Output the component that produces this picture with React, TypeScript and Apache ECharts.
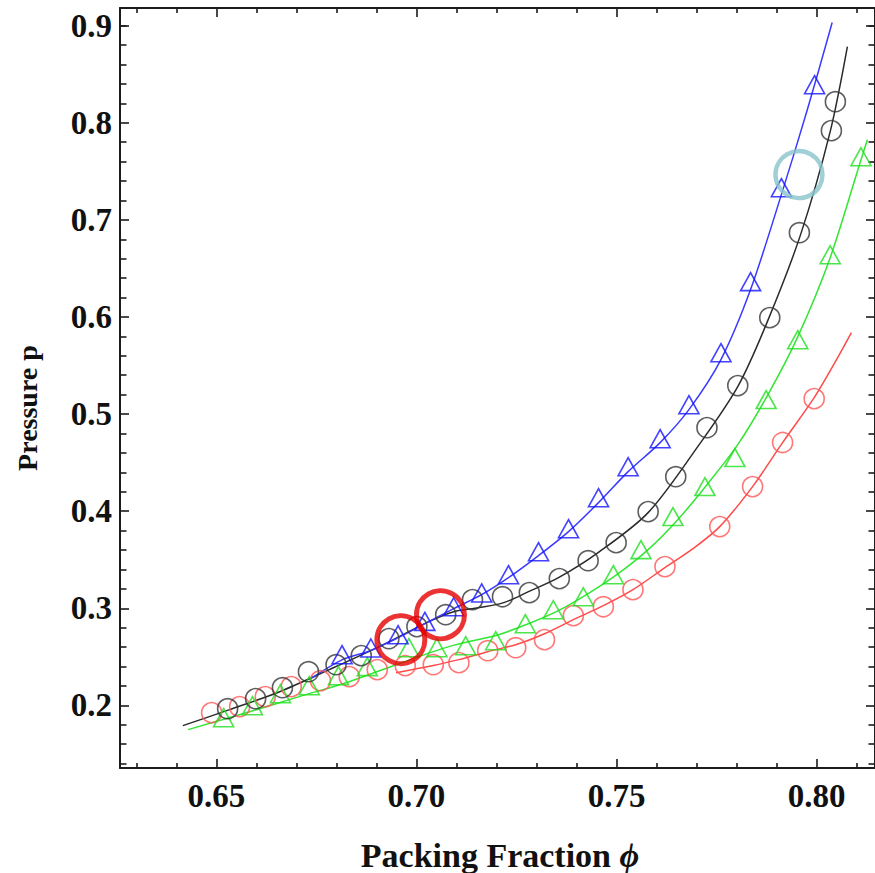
import React, { useEffect, useRef } from "react";
import * as echarts from "echarts";

// ---- axis ticks ----
const xMajorTicks = [0.65, 0.7, 0.75, 0.8];
const xMinorTicks = [0.63, 0.64, 0.66, 0.67, 0.68, 0.69, 0.71, 0.72, 0.73, 0.74, 0.76, 0.77, 0.78, 0.79, 0.81];
const yMajorTicks = [0.2, 0.3, 0.4, 0.5, 0.6, 0.7, 0.8, 0.9];
const yMinorTicks = [0.14, 0.16, 0.18, 0.22, 0.24, 0.26, 0.28, 0.32, 0.34, 0.36, 0.38, 0.42, 0.44, 0.46, 0.48,
  0.52, 0.54, 0.56, 0.58, 0.62, 0.64, 0.66, 0.68, 0.72, 0.74, 0.76, 0.78, 0.82, 0.84, 0.86, 0.88, 0.9];
const X_MIN = 0.6259;
const X_MAX = 0.8146;
const Y_MIN = 0.1355;
const Y_MAX = 0.9182;

// ---- data points ----
const blueTriangles: [number, number][] = [
  [0.6814, 0.2522], [0.6886, 0.2591], [0.6954, 0.2728], [0.7021, 0.2865], [0.7093, 0.3016],
  [0.7163, 0.3158], [0.7230, 0.3346], [0.7305, 0.3583], [0.7380, 0.3820], [0.7455, 0.4139],
  [0.7529, 0.4458], [0.7609, 0.4747], [0.7681, 0.5097], [0.7761, 0.5632], [0.7835, 0.6364],
  [0.7912, 0.7332], [0.7995, 0.8392],
];
const blackCircles: [number, number][] = [
  [0.6528, 0.1966], [0.6598, 0.2069], [0.6665, 0.2182], [0.6730, 0.2347], [0.6799, 0.2419],
  [0.6862, 0.2512], [0.6931, 0.2687], [0.7001, 0.2811], [0.7073, 0.2934], [0.7140, 0.3089],
  [0.7215, 0.3119], [0.7282, 0.3161], [0.7357, 0.3305], [0.7429, 0.3490], [0.7499, 0.3676],
  [0.7579, 0.3995], [0.7648, 0.4355], [0.7726, 0.4860], [0.7803, 0.5293], [0.7883, 0.5993],
  [0.7957, 0.6868], [0.8037, 0.7919], [0.8047, 0.8217],
];
const greenTriangles: [number, number][] = [
  [0.6518, 0.1873], [0.6590, 0.1997], [0.6660, 0.2120], [0.6732, 0.2203], [0.6805, 0.2306],
  [0.6877, 0.2399], [0.6981, 0.2594], [0.7051, 0.2594], [0.7123, 0.2615], [0.7198, 0.2666],
  [0.7272, 0.2841], [0.7342, 0.2985], [0.7417, 0.3119], [0.7492, 0.3346], [0.7561, 0.3604],
  [0.7641, 0.3944], [0.7721, 0.4253], [0.7796, 0.4552], [0.7874, 0.5149], [0.7953, 0.5766],
  [0.8034, 0.6641], [0.8111, 0.7650],
];
const redCircles: [number, number][] = [
  [0.6488, 0.1925], [0.6558, 0.1987], [0.6622, 0.2090], [0.6687, 0.2193], [0.6760, 0.2254],
  [0.6832, 0.2296], [0.6902, 0.2368], [0.6972, 0.2409], [0.7042, 0.2419], [0.7106, 0.2440],
  [0.7178, 0.2563], [0.7248, 0.2594], [0.7320, 0.2677], [0.7392, 0.2924], [0.7467, 0.3016],
  [0.7541, 0.3192], [0.7621, 0.3429], [0.7758, 0.3841], [0.7840, 0.4253], [0.7915, 0.4707],
  [0.7994, 0.5159],
];

// ---- fitted curves ----
const blueCurve: [number, number][] = [
  [0.6732, 0.2265], [0.6815, 0.2471], [0.6884, 0.2563], [0.6954, 0.2697], [0.7021, 0.2841],
  [0.7093, 0.2996], [0.7163, 0.3140], [0.7230, 0.3315], [0.7305, 0.3542], [0.7380, 0.3789],
  [0.7455, 0.4088], [0.7529, 0.4407], [0.7609, 0.4706], [0.7681, 0.5046], [0.7761, 0.5561],
  [0.7835, 0.6282], [0.7912, 0.7260], [0.7977, 0.8136], [0.8039, 0.9032],
];
const blackCurve: [number, number][] = [
  [0.6416, 0.1791], [0.6533, 0.1956], [0.6658, 0.2141], [0.6782, 0.2368], [0.6907, 0.2605],
  [0.7031, 0.2862], [0.7093, 0.2965], [0.7155, 0.3006], [0.7218, 0.3058], [0.7280, 0.3171],
  [0.7355, 0.3315], [0.7454, 0.3573], [0.7579, 0.3985], [0.7703, 0.4665], [0.7803, 0.5283],
  [0.7877, 0.5952], [0.7960, 0.6848], [0.8034, 0.7909], [0.8077, 0.8784],
];
const greenCurve: [number, number][] = [
  [0.6429, 0.1750], [0.6583, 0.1935], [0.6707, 0.2090], [0.6832, 0.2244], [0.6956, 0.2429],
  [0.7081, 0.2605], [0.7205, 0.2728], [0.7280, 0.2841], [0.7355, 0.2975], [0.7429, 0.3150],
  [0.7504, 0.3356], [0.7579, 0.3604], [0.7653, 0.3912], [0.7728, 0.4283], [0.7803, 0.4685],
  [0.7877, 0.5190], [0.7952, 0.5787], [0.8034, 0.6611], [0.8111, 0.7620], [0.8127, 0.7826],
];
const redCurve: [number, number][] = [
  [0.6949, 0.2337], [0.7039, 0.2409], [0.7106, 0.2471], [0.7178, 0.2553], [0.7248, 0.2625],
  [0.7320, 0.2738], [0.7392, 0.2883], [0.7467, 0.3027], [0.7541, 0.3192], [0.7621, 0.3418],
  [0.7691, 0.3614], [0.7758, 0.3841], [0.7840, 0.4253], [0.7915, 0.4706], [0.7994, 0.5169],
  [0.8047, 0.5540], [0.8087, 0.5839],
];

// ---- highlight rings ----
const redRings: [number, number][] = [[0.6961, 0.2677], [0.7060, 0.2934]];
const tealRings: [number, number][] = [[0.7956, 0.7466]];

const FONT = "'Liberation Serif', 'Times New Roman', serif";
const AXIS_COLOR = "#1c1c1c";

function makeAxis(kind: "x" | "y", pos: string, ticks: number[], len: number, showLine: boolean, labels: boolean, digits: number) {
  const base: any = {
    type: "value",
    position: pos,
    min: kind === "x" ? X_MIN : Y_MIN,
    max: kind === "x" ? X_MAX : Y_MAX,
    splitLine: { show: false },
    axisLine: { show: showLine, onZero: false, lineStyle: { color: AXIS_COLOR, width: 2 } },
    axisTick: { show: true, inside: true, length: len, customValues: ticks, lineStyle: { color: AXIS_COLOR, width: 1.6 } },
    axisLabel: labels
      ? {
          show: true,
          customValues: ticks,
          margin: kind === "x" ? 11 : 8,
          color: "#111",
          fontFamily: FONT,
          fontWeight: "bold",
          fontSize: 33,
          formatter: (v: number) => v.toFixed(digits),
        }
      : { show: false },
  };
  return base;
}

export default function App() {
  const ref = useRef<HTMLDivElement>(null);
  useEffect(() => {
    if (!ref.current) return;
    const chart = echarts.init(ref.current, undefined, { renderer: "svg" });
    const lineSeries = (data: [number, number][], color: string, width = 1.5) => ({
      type: "line",
      data,
      smooth: 0.3,
      showSymbol: false,
      symbol: "none",
      lineStyle: { color, width },
      z: 2,
    });
    const pointSeries = (data: [number, number][], symbol: string, size: any, color: string) => ({
      type: "scatter",
      data,
      symbol,
      symbolSize: size,
      itemStyle: { color: "rgba(0,0,0,0)", borderColor: color, borderWidth: 1.6 },
      z: 3,
    });
    chart.setOption({
      animation: false,
      backgroundColor: "#ffffff",
      grid: { left: 120, top: 8, right: -3, bottom: 105, containLabel: false },
      xAxis: [
        makeAxis("x", "bottom", xMajorTicks, 9, true, true, 2),
        makeAxis("x", "bottom", xMinorTicks, 5, false, false, 2),
        makeAxis("x", "top", xMajorTicks, 9, true, false, 2),
        makeAxis("x", "top", xMinorTicks, 5, false, false, 2),
      ],
      yAxis: [
        makeAxis("y", "left", yMajorTicks, 9, true, true, 1),
        makeAxis("y", "left", yMinorTicks, 6.5, false, false, 1),
        makeAxis("y", "right", yMajorTicks, 9, true, false, 1),
        makeAxis("y", "right", yMinorTicks, 6.5, false, false, 1),
      ],
      series: [
        lineSeries(redCurve, "#ff4a4a"),
        lineSeries(greenCurve, "#33e633"),
        lineSeries(blackCurve, "#2a2a2a"),
        lineSeries(blueCurve, "#3a3aff"),
        pointSeries(redCircles, "circle", 20, "#ff5555"),
        pointSeries(greenTriangles, "triangle", [20, 18], "#1fe01f"),
        pointSeries(blackCircles, "circle", 20, "#363636"),
        pointSeries(blueTriangles, "triangle", [20, 18], "#1414ff"),
        {
          type: "scatter",
          data: redRings,
          symbol: "circle",
          symbolSize: 48,
          itemStyle: { color: "rgba(0,0,0,0)", borderColor: "#e60000", borderWidth: 5 },
          z: 5,
        },
        {
          type: "scatter",
          data: tealRings,
          symbol: "circle",
          symbolSize: 47,
          itemStyle: { color: "rgba(0,0,0,0)", borderColor: "#88c4ca", borderWidth: 4.5 },
          z: 5,
        },
      ],
      graphic: [
        {
          type: "text",
          x: 500,
          y: 855,
          style: {
            text: "{a|Packing Fraction }{b|ϕ}",
            align: "center",
            verticalAlign: "middle",
            rich: {
              a: { fontFamily: FONT, fontWeight: "bold", fontSize: 34, fill: "#111" },
              b: { fontFamily: FONT, fontWeight: "bold", fontStyle: "italic", fontSize: 34, fill: "#111" },
            },
          },
        },
        {
          type: "text",
          x: 27,
          y: 408,
          rotation: Math.PI / 2,
          style: {
            text: "Pressure p",
            align: "center",
            verticalAlign: "middle",
            fontFamily: FONT,
            fontWeight: "bold",
            fontSize: 28,
            fill: "#111",
          },
        },
      ],
    });
    return () => chart.dispose();
  }, []);
  return <div ref={ref} style={{ position: "fixed", left: 0, top: 0, width: 875, height: 873, background: "#fff" }} />;
}
